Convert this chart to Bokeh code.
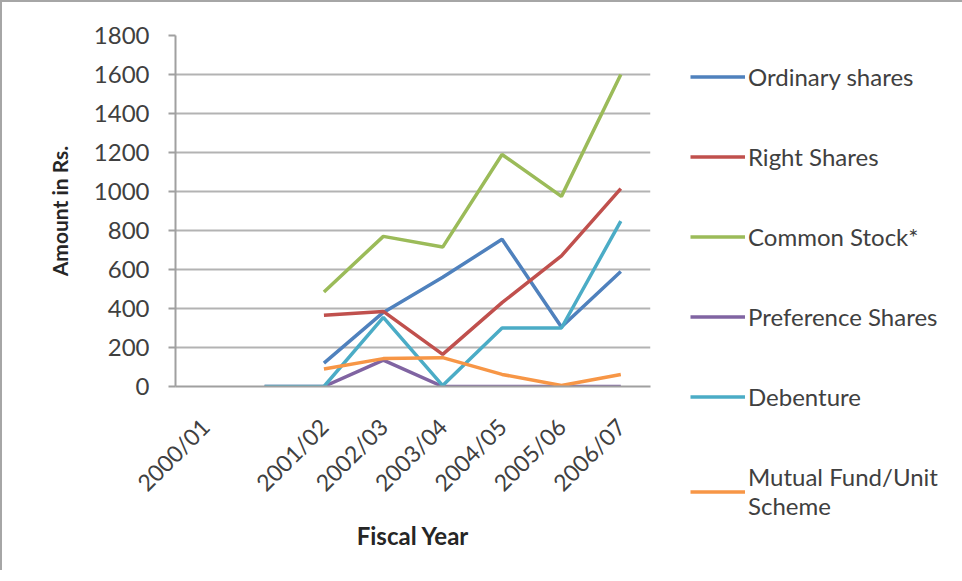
import math
from bokeh.plotting import figure
from bokeh.models import Range1d, FixedTicker, Legend, LegendItem
from bokeh.embed import file_html
from bokeh.resources import INLINE

nan = float("nan")

# ---- data ----
x_labels = ["2000/01", "", "2001/02", "2002/03", "2003/04", "2004/05", "2005/06", "2006/07"]
y_ticks = [0, 200, 400, 600, 800, 1000, 1200, 1400, 1600, 1800]

ordinary_shares = [nan, nan, 120, 380, 560, 755, 305, 590]
right_shares = [nan, nan, 365, 385, 165, 430, 670, 1015]
common_stock = [nan, nan, 485, 770, 715, 1190, 975, 1600]
preference_shares = [nan, 0, 0, 135, 0, 0, 0, 0]
debenture = [nan, 0, 0, 355, 5, 300, 300, 848]
mutual_fund = [nan, nan, 90, 143, 148, 62, 5, 62]

series_names = ["Ordinary shares", "Right Shares", "Common Stock*",
                "Preference Shares", "Debenture", "Mutual Fund/Unit\nScheme"]
series_values = [ordinary_shares, right_shares, common_stock,
                 preference_shares, debenture, mutual_fund]
colors = ["#4F81BD", "#C0504D", "#9BBB59", "#8064A2", "#4BACC6", "#F79646"]

xs = list(range(len(x_labels)))

FONT = "Lato"
TEXT = "#404040"

p = figure(frame_width=475, frame_height=351, output_backend="svg", toolbar_location=None,
           x_range=Range1d(-0.5, len(x_labels) - 0.5), y_range=Range1d(0, 1800),
           min_border_left=173, min_border_right=0, min_border_top=33,
           min_border_bottom=184)
p.outline_line_color = None
p.background_fill_color = "white"
p.border_fill_color = "white"

# grid
p.xgrid.grid_line_color = None
p.ygrid.grid_line_color = "#B3B3B3"
p.ygrid.grid_line_width = 2
p.ygrid.ticker = FixedTicker(ticks=y_ticks)

# y axis
p.yaxis.ticker = FixedTicker(ticks=y_ticks)
p.yaxis.axis_line_color = "#A0A0A0"
p.yaxis.axis_line_width = 2
p.yaxis.major_tick_line_color = "#A0A0A0"
p.yaxis.major_tick_line_width = 2
p.yaxis.major_tick_out = 7
p.yaxis.major_tick_in = 0
p.yaxis.minor_tick_line_color = None
p.yaxis.major_label_standoff = 19
p.yaxis.major_label_text_font = FONT
p.yaxis.major_label_text_font_size = "24px"
p.yaxis.major_label_text_color = TEXT
p.yaxis.axis_label = "Amount in Rs."
p.yaxis.axis_label_text_font = FONT
p.yaxis.axis_label_text_font_size = "21px"
p.yaxis.axis_label_text_font_style = "bold"
p.yaxis.axis_label_text_color = "#262626"
p.yaxis.axis_label_standoff = 19

# x axis
p.xaxis.ticker = FixedTicker(ticks=xs)
p.xaxis.major_label_overrides = {i: lab for i, lab in enumerate(x_labels)}
p.xaxis.major_label_orientation = math.pi / 4
p.xaxis.axis_line_color = "#A0A0A0"
p.xaxis.axis_line_width = 2
p.xaxis.major_tick_line_color = None
p.xaxis.minor_tick_line_color = None
p.xaxis.major_label_standoff = 30
p.xaxis.major_label_text_font = FONT
p.xaxis.major_label_text_font_size = "23px"
p.xaxis.major_label_text_color = TEXT
p.xaxis.axis_label = "Fiscal Year"
p.xaxis.axis_label_text_font = FONT
p.xaxis.axis_label_text_font_size = "24px"
p.xaxis.axis_label_text_font_style = "bold"
p.xaxis.axis_label_text_color = "#262626"
p.xaxis.axis_label_standoff = 12

items = []
for name, vals, col in zip(series_names, series_values, colors):
    r = p.line(xs, vals, line_color=col, line_width=3.5)
    items.append(LegendItem(label=name, renderers=[r]))

legend = Legend(items=items, location=(40, -134))
legend.glyph_width = 55
legend.glyph_height = 29
legend.label_height = 29
legend.label_standoff = 3
legend.spacing = 51
legend.padding = 0
legend.margin = 0
legend.border_line_alpha = 0
legend.background_fill_alpha = 0
legend.label_text_font = FONT
legend.label_text_font_size = "24px"
legend.label_text_color = TEXT
p.add_layout(legend, "right")

p.styles = {"border-left": "2px solid #A6A6A6", "border-top": "2px solid #A6A6A6"}

open("out.html", "w").write(file_html(p, INLINE))
